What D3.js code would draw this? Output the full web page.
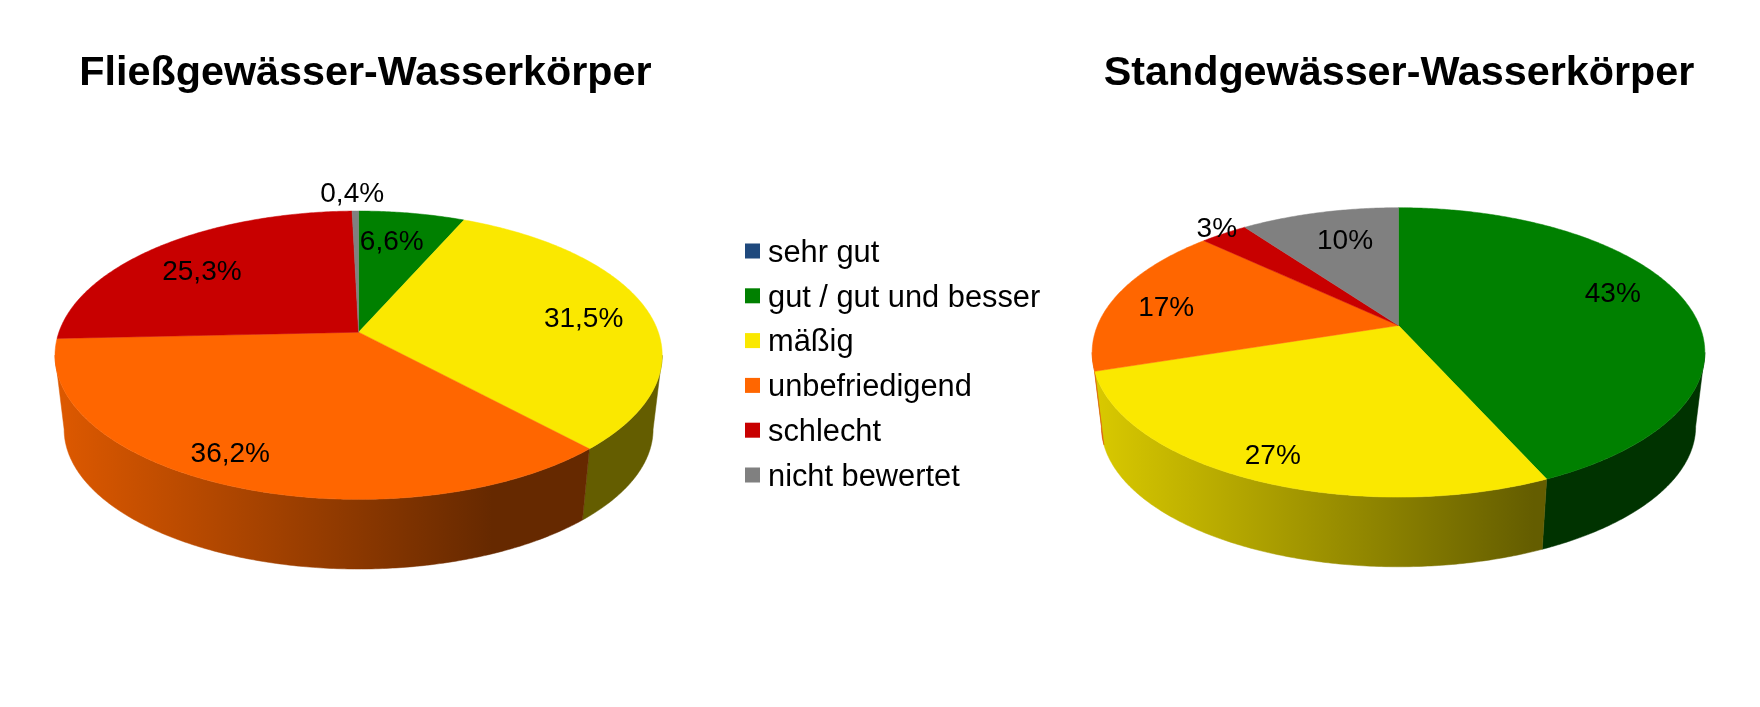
<!DOCTYPE html>
<html>
<head>
<meta charset="utf-8">
<script src="https://d3js.org/d3.v7.min.js"></script>
<style>
html,body{margin:0;padding:0;background:#fff}
svg{display:block;filter:blur(0.5px)}
text{font-family:"Liberation Sans",Arial,sans-serif;fill:#000}
</style>
</head>
<body>
<svg id="chart" width="1760" height="707"></svg>
<script>
// Data
const categories = ["sehr gut","gut / gut und besser","mäßig","unbefriedigend","schlecht","nicht bewertet"];
const colors = ["#1f497d","#008000","#fae800","#ff6600","#c80000","#808080"];
const fliessValues = [0,6.6,31.5,36.2,25.3,0.4];
const fliessLabels = ["","6,6%","31,5%","36,2%","25,3%","0,4%"];
const standValues = [0,43.3,26.7,17,3,10];
const standLabels = ["","43%","27%","17%","3%","10%"];

// Layout
const W = 1760, H = 707;
const svg = d3.select("#chart");
const defs = svg.append("defs");
const charts = [
  {id:"f", title:"Fließgewässer-Wasserkörper", titleX:365.5, values:fliessValues, labels:fliessLabels,
   cx:358.6, y0:332.2, a:299.7, c:140.5, b:0.1595, depth:74, shrink:0.97,
   labelR:[0,0.742,0.771,0.841,0.734,1.19], labelTurn:[0,-2.3,1.6,4.3,-3,-0.5]},
  {id:"s", title:"Standgewässer-Wasserkörper", titleX:1399, values:standValues, labels:standLabels,
   cx:1398.5, y0:325.5, a:301, c:139.7, b:0.186, depth:74, shrink:0.97,
   labelR:[0,0.784,0.862,0.804,1.07,0.728], labelTurn:[0,-6.2,0.5,-2.6,0.9,2]}
];
const titleY = 84.5, titleSize = 41.3, labelSize = 28, legendSize = 30.8;
const legendY = d3.scalePoint().domain(categories).range([251,475]);
const legendSwatchX = 745, legendSwatch = 15, legendTextX = 768;

const pie = d3.pie().sort(null).value(d => d);
const line = d3.line();

function shade(hex, k){
  const c = d3.rgb(hex);
  return d3.rgb(c.r*k, c.g*k, c.b*k).formatHex();
}

charts.forEach(ch => {
  const arcs = pie(ch.values);
  const yMid = ch.y0 + ch.c*ch.b/(1-ch.b*ch.b);
  const top = (t, r=1) => {
    const u = r*Math.sin(t), v = -r*Math.cos(t), w = 1 - ch.b*v;
    return [ch.cx + ch.a*u/w, ch.y0 + ch.c*v/w];
  };
  const bottom = t => {
    const p = top(t);
    return [ch.cx + ch.shrink*(p[0]-ch.cx), yMid + ch.depth + ch.shrink*(p[1]-yMid)];
  };
  const sample = (t0, t1) => {
    const n = Math.max(2, Math.ceil(Math.abs(t1-t0)/0.01));
    return d3.range(n+1).map(i => t0 + (t1-t0)*i/n);
  };
  const g = svg.append("g");
  const xL = ch.cx - ch.a/Math.sqrt(1-ch.b*ch.b);
  const xR = ch.cx + ch.a/Math.sqrt(1-ch.b*ch.b);

  // Side wall
  const tA = Math.acos(-ch.b), tB = 2*Math.PI - tA;
  arcs.forEach((d,i) => {
    const t0 = Math.max(d.startAngle,tA), t1 = Math.min(d.endAngle,tB);
    if (t1 <= t0) return;
    const gid = `grad-${ch.id}-${i}`;
    const gr = defs.append("linearGradient").attr("id",gid)
      .attr("gradientUnits","userSpaceOnUse")
      .attr("x1",xL).attr("x2",xR).attr("y1",0).attr("y2",0);
    gr.append("stop").attr("offset",0).attr("stop-color",shade(colors[i],0.87));
    gr.append("stop").attr("offset",0.72).attr("stop-color",shade(colors[i],0.4));
    gr.append("stop").attr("offset",1).attr("stop-color",shade(colors[i],0.4));
    const ts = sample(t0,t1);
    const pts = ts.map(t=>top(t)).concat(ts.slice().reverse().map(bottom));
    g.append("path").attr("d",line(pts)+"Z").attr("fill",`url(#${gid})`)
      .attr("stroke",`url(#${gid})`).attr("stroke-width",0.5);
  });

  // Top face
  arcs.forEach((d,i) => {
    if (d.endAngle <= d.startAngle) return;
    const pts = [[ch.cx,ch.y0]].concat(sample(d.startAngle,d.endAngle).map(t=>top(t)));
    g.append("path").attr("d",line(pts)+"Z").attr("fill",colors[i])
      .attr("stroke",colors[i]).attr("stroke-width",0.5);
  });

  // Labels
  arcs.forEach((d,i) => {
    if (!ch.labels[i]) return;
    const mid = (d.startAngle+d.endAngle)/2 + ch.labelTurn[i]*Math.PI/180;
    const p = top(mid, ch.labelR[i]);
    g.append("text").attr("x",p[0]).attr("y",p[1]).attr("dy","0.35em")
      .attr("text-anchor","middle").attr("font-size",labelSize).text(ch.labels[i]);
  });

  // Title
  svg.append("text").attr("x",ch.titleX).attr("y",titleY).attr("text-anchor","middle")
    .attr("font-size",titleSize).attr("font-weight","bold").text(ch.title);
});

// Legend
const lg = svg.append("g");
categories.forEach((c,i) => {
  const y = legendY(c);
  lg.append("rect").attr("x",legendSwatchX).attr("y",y-legendSwatch/2)
    .attr("width",legendSwatch).attr("height",legendSwatch).attr("fill",colors[i]);
  lg.append("text").attr("x",legendTextX).attr("y",y).attr("dy","0.35em")
    .attr("font-size",legendSize).text(c);
});
</script>
</body>
</html>
